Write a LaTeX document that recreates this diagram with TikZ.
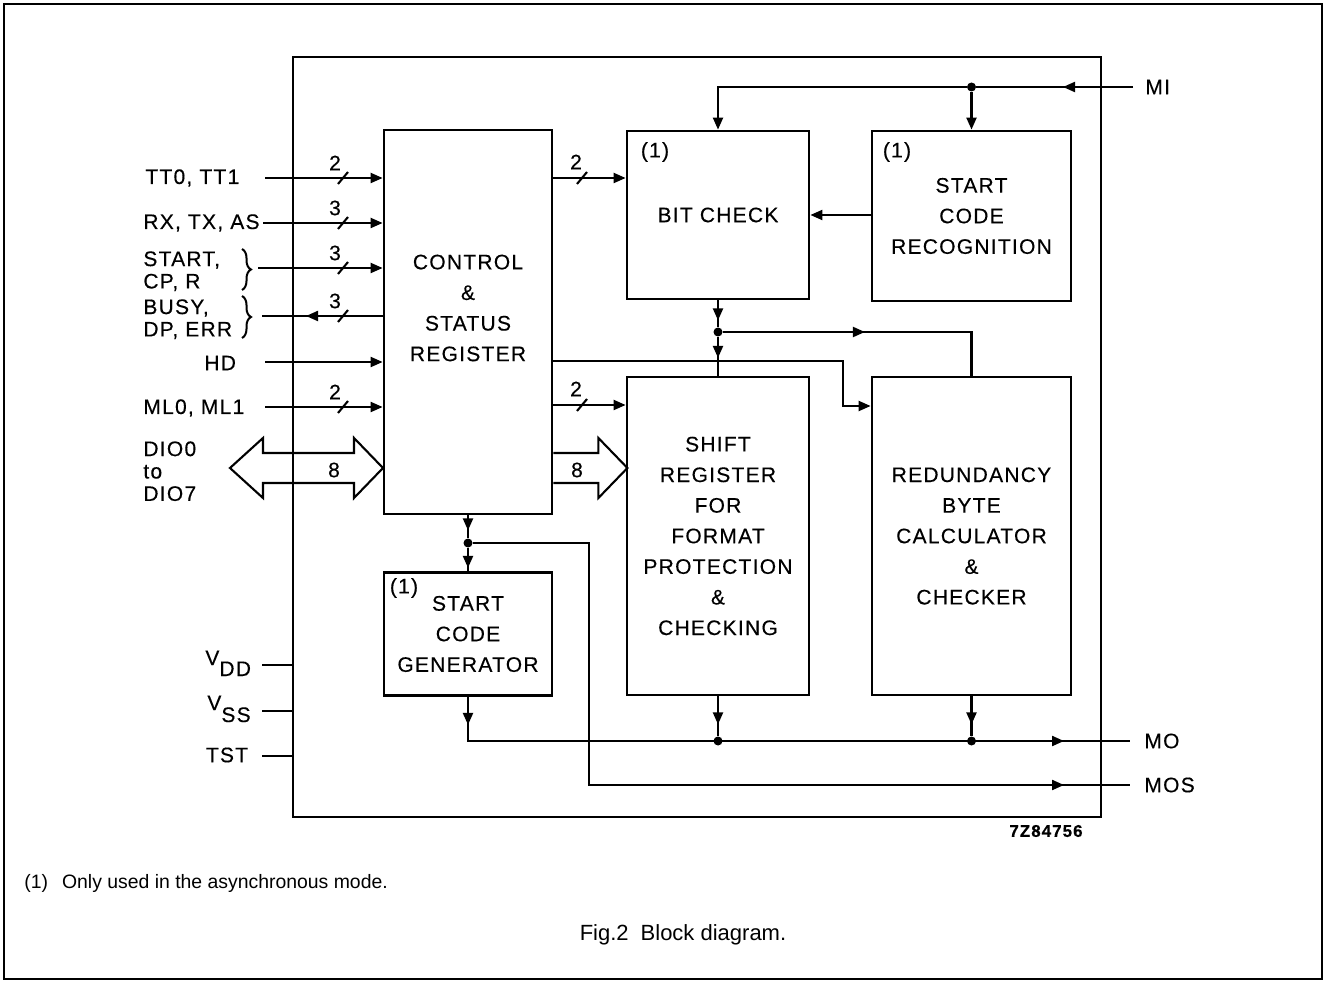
\documentclass[tikz,border=0pt]{standalone}
\usepackage{fontspec}
\setmainfont{Liberation Sans}
\newfontfamily\diagfont[LetterSpace=6,FakeBold=0.3]{Liberation Sans}
\usetikzlibrary{positioning,arrows.meta,calc,decorations.markings,decorations.pathreplacing}
\tikzset{
  blk/.style={draw, line width=1.4pt, inner sep=0pt, align=center, font=\diagfont\fontsize{10.5}{15.3}\selectfont},
  chip/.style={draw, line width=1.4pt, inner sep=0pt},
  sig/.style={line width=1.05pt},
  pinlbl/.style={inner sep=0pt, align=left, font=\diagfont\fontsize{10.5}{11.2}\selectfont},
  num/.style={inner sep=0pt, font=\diagfont\fontsize{10.5}{12}\selectfont},
  dot/.style={circle, fill, inner sep=0pt, minimum size=4.5pt},
  arrat/.style={postaction={decorate, decoration={markings, mark=at position #1 with {\arrow{>}}}}},
  busarr/.style={line width=1.05pt, line join=miter},
  brc/.style={decorate, decoration={brace, amplitude=4.5pt}, line width=1pt},
  slash/.style={line width=1.05pt}
}

\begin{document}
\begin{tikzpicture}[x=0.5pt, y=-0.5pt, >={Triangle[length=6pt,width=5pt]}]
  \useasboundingbox (0,0) rectangle (1326,983);
  \draw[line width=0.8pt] (4,4) rectangle (1322,979);

  % chip outline and blocks
  \node[chip, minimum width=404pt, minimum height=380pt] (chip) at (697,437) {};
  \node[blk, minimum width=84pt, minimum height=192pt] (csr) at (468,322) {};
  \node[blk, draw=none] (csrtxt) at (468,308) {CONTROL\\\&\\STATUS\\REGISTER};
  \node[blk, minimum width=91pt, minimum height=84pt] (bc) at (718,215) {BIT CHECK};
  \node[blk, minimum width=99.5pt, minimum height=85pt] (scr) at (971.5,216) {START\\CODE\\RECOGNITION};
  \node[blk, minimum width=91pt, minimum height=159pt] (sr) at (718,536) {SHIFT\\REGISTER\\FOR\\FORMAT\\PROTECTION\\\&\\CHECKING};
  \node[blk, minimum width=99.5pt, minimum height=159pt] (rbc) at (971.5,536) {REDUNDANCY\\BYTE\\CALCULATOR\\\&\\CHECKER};
  \node[blk, minimum width=84pt, minimum height=61.5pt] (scg) at (468,634) {START\\CODE\\GENERATOR};
  \foreach \x/\y/\n in {655/152/bc, 897/152/scr, 404/588/scg}
    \node[num] (one\n) at (\x,\y) {(1)};

  % pins
  \coordinate (pTT) at (265,178);
  \coordinate (pRX) at (263,223);
  \coordinate (pST) at (258,268);
  \coordinate (pBU) at (262,316);
  \coordinate (pHD) at (265,362);
  \coordinate (pML) at (265,407);
  \coordinate (pDIO) at (230,468);
  \coordinate (pVD) at (262,665);
  \coordinate (pVS) at (262,711);
  \coordinate (pTS) at (262,756);
  \coordinate (pMI) at (1133,87);
  \coordinate (pMO) at (1130,741);
  \coordinate (pMOS) at (1130,785);

  \node[pinlbl, anchor=west] (lTT) at (145,178) {TT0, TT1};
  \node[pinlbl, anchor=west] (lRX) at (143,223) {RX, TX, AS};
  \node[pinlbl, anchor=north west] (lST) at (143,251) {START,\\CP, R};
  \node[pinlbl, anchor=north west] (lBU) at (143,299) {BUSY,\\DP, ERR};
  \node[pinlbl, anchor=west] (lHD) at (204,363) {HD};
  \node[pinlbl, anchor=west] (lML) at (143,408) {ML0, ML1};
  \node[pinlbl, anchor=north west] (lDIO) at (143,441) {DIO0\\to\\DIO7};
  \node[pinlbl, anchor=base west] (lVD) at (205,665) {V\raisebox{-5.5pt}{DD}};
  \node[pinlbl, anchor=base west] (lVS) at (207,710) {V\raisebox{-6pt}{SS}};
  \node[pinlbl] (lTS) at (227,755) {TST};
  \node[pinlbl, anchor=west] (lMI) at (1145,87) {MI};
  \node[pinlbl, anchor=west] (lMO) at (1144,741) {MO};
  \node[pinlbl, anchor=west] (lMOS) at (1144,785) {MOS};

  \draw[brc] (242,249) -- (242,290);
  \draw[brc] (242,296) -- (242,338);

  % inputs and outputs on the left
  \foreach \p in {pTT, pRX, pST, pHD, pML}
    \draw[sig,->] (\p) -- (csr.west |- \p);
  \draw[sig, arrat=-22pt] (csr.west |- pBU) -- (pBU);
  \foreach \p in {pVD, pVS, pTS}
    \draw[sig] (\p) -- (chip.west |- \p);
  \foreach \y/\n in {178/2, 223/3, 268/3, 316/3, 407/2}{
    \draw[slash] (343,\y) ++(-5,6) -- ++(10,-12);
    \node[num] (nl\y) at (335,\y-15) {\n};
  }

  % data buses
  \draw[busarr] (pDIO) -- ++(33,-30) -- ++(0,15) -- ++(91,0) -- ++(0,-15) -- ++(29,30)
    -- ++(-29,30) -- ++(0,-15) -- ++(-91,0) -- ++(0,15) -- cycle;
  \draw[busarr] (csr.east |- pDIO) ++(0,-15) -- ++(45,0) -- ++(0,-15) -- ++(29,30)
    -- ++(-29,30) -- ++(0,-15) -- ++(-45,0);
  \node[num] (dl) at (334,470) {8};
  \node[num] (dr) at (577,470) {8};

  % internal signals
  \node[dot] (jMI) at (971.5,87) {};
  \node[dot] (jBC) at (718,332) {};
  \node[dot] (jCS) at (468,543) {};
  \node[dot] (jSR) at (718,741) {};
  \node[dot] (jRB) at (971.5,741) {};

  \draw[sig, arrat=35pt] (pMI) -- (jMI);
  \draw[sig,->] (jMI) -| (bc.north);
  \draw[sig,->] (jMI) -- (scr.north);
  \draw[sig,->] (scr.west |- 0,215) -- (bc.east |- 0,215);

  \draw[sig,->] (csr.east |- pTT) -- (bc.west |- pTT);
  \draw[sig,->] (csr.east |- 0,405) -- (sr.west |- 0,405);
  \foreach \y in {178, 405}{
    \draw[slash] (582,\y) ++(-5,6) -- ++(10,-12);
    \node[num] (nr\y) at (576,\y-16) {2};
  }

  \draw[sig, arrat=10pt] (bc.south) -- (jBC);
  \draw[sig, arrat=10.5pt] (jBC) -- (sr.north);
  \draw[sig, arrat=71pt] (jBC) -| (rbc.north);
  \coordinate (kCR) at (843,406);
  \draw[sig,->] (csr.east |- 0,361) -| (kCR) -- (rbc.west |- kCR);

  \draw[sig, arrat=7.5pt] (csr.south) -- (jCS);
  \draw[sig, arrat=10pt] (jCS) -- (scg.north);
  \coordinate (kMOS) at (589,785);
  \draw[sig, arrat=-33pt] (jCS) -| (kMOS) -- (pMOS);

  \draw[sig, arrat=14pt, arrat=-33pt] (scg.south) |- (pMO);
  \draw[sig, arrat=14pt] (sr.south) -- (jSR);
  \draw[sig, arrat=14pt] (rbc.south) -- (jRB);

  \node[inner sep=0pt, font=\diagfont\bfseries\fontsize{8.5}{10}\selectfont] (code) at (1046,831) {7Z84756};
  \node[anchor=west, inner sep=0pt, font=\fontsize{9.7}{11}\selectfont] (note) at (24,883) {(1)\hspace{7pt}Only used in the asynchronous mode.};
  \node[inner sep=0pt, font=\fontsize{11}{13}\selectfont] (cap) at (683,935) {Fig.2\hspace{6pt}Block diagram.};
\end{tikzpicture}
\end{document}
